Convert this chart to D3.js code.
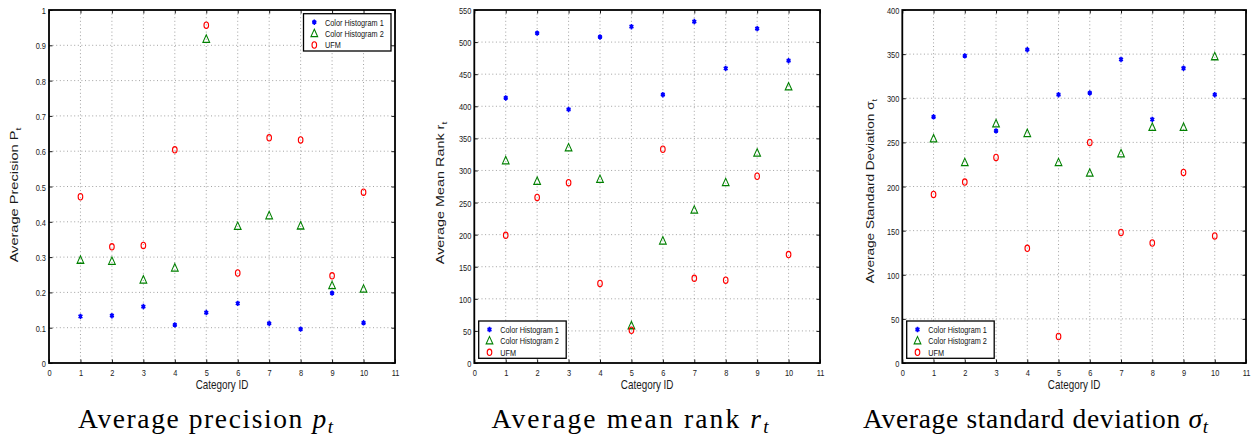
<!DOCTYPE html>
<html><head><meta charset="utf-8">
<script src="https://cdn.jsdelivr.net/npm/d3@7"></script>
<style>
html,body{margin:0;padding:0;background:#fff;}
svg{display:block;}
</style></head>
<body>
<svg id="chart" width="1256" height="439"></svg>
<script>
const categories = [1,2,3,4,5,6,7,8,9,10];
const seriesNames = ["Color Histogram 1","Color Histogram 2","UFM"];
const xTicks = [0,1,2,3,4,5,6,7,8,9,10,11];

const precisionCH1 = [0.132,0.134,0.160,0.108,0.143,0.169,0.112,0.096,0.198,0.114];
const precisionCH2 = [0.291,0.288,0.235,0.269,0.917,0.387,0.417,0.388,0.219,0.209];
const precisionUFM = [0.471,0.329,0.333,0.604,0.957,0.255,0.638,0.632,0.247,0.484];
const precisionTicks = [0,0.1,0.2,0.3,0.4,0.5,0.6,0.7,0.8,0.9,1];

const rankCH1 = [413,514,395,508,524,418,532,459,521,471];
const rankCH2 = [315,283,335,286,58,190,238,281,327,430];
const rankUFM = [199,258,281,124,51,333,132,129,291,169];
const rankTicks = [0,50,100,150,200,250,300,350,400,450,500,550];

const sdCH1 = [279,348,263,355,304,306,344,276,334,304];
const sdCH2 = [254,227,271,260,227,215,237,267,267,347];
const sdUFM = [191,205,233,130,30,250,148,136,216,144];
const sdTicks = [0,50,100,150,200,250,300,350,400];

const panels = [
  {ylabel:"Average Precision P", series:[precisionCH1,precisionCH2,precisionUFM], ticks:precisionTicks,
   left:49, right:395, ylabX:18.3, ylabCy:195, ylabSize:14.6, legend:"tr",
   caption:["Average precision ","p","t"], capCx:205.5, capW:255},
  {ylabel:"Average Mean Rank r", series:[rankCH1,rankCH2,rankUFM], ticks:rankTicks,
   left:474.3, right:820, ylabX:444, ylabCy:193, ylabSize:14.4, legend:"bl",
   caption:["Average mean rank ","r","t"], capCx:630, capW:277},
  {ylabel:"Average Standard Deviation σ", series:[sdCH1,sdCH2,sdUFM], ticks:sdTicks,
   left:902.3, right:1246, ylabX:874, ylabCy:191, ylabSize:13.6, legend:"bl",
   caption:["Average standard deviation ","σ","t"], capCx:1035.5, capW:345}
];

const colors = ["#0000ff","#008000","#ff0000"];
const plotTop = 10, plotBottom = 363;
const squish = 0.76;
const sansFont = "'Liberation Sans',Arial,sans-serif";
const svg = d3.select("#chart");

function sText(g, x, y, txt, size, anchor) {
  return g.append("text").attr("transform",`translate(${x},${y}) scale(${squish},1)`)
    .attr("text-anchor",anchor).style("font-family",sansFont).style("font-size",size+"px")
    .attr("fill","#1a1a1a").text(txt);
}

function drawMarker(g, k, x, y) {
  if (k === 0) {
    g.append("path").attr("d", d3.symbol(d3.symbolAsterisk, 20)())
      .attr("transform", `translate(${x},${y}) scale(0.85,1)`)
      .attr("fill","none").attr("stroke",colors[0]).attr("stroke-width",1.8);
    g.append("ellipse").attr("cx",x).attr("cy",y).attr("rx",1.5).attr("ry",1.8).attr("fill",colors[0]);
  } else if (k === 1) {
    g.append("path").attr("d", d3.symbol(d3.symbolTriangle, 24)())
      .attr("transform", `translate(${x},${y+0.5}) scale(0.9,1.15)`)
      .attr("fill","none").attr("stroke",colors[1]).attr("stroke-width",1.1);
  } else {
    g.append("ellipse").attr("cx",x).attr("cy",y).attr("rx",2.3).attr("ry",3.2)
      .attr("fill","none").attr("stroke",colors[2]).attr("stroke-width",1.1);
  }
}

panels.forEach(p => {
  const g = svg.append("g");
  const x = d3.scaleLinear().domain([0,11]).range([p.left,p.right]);
  const ymax = p.ticks[p.ticks.length-1];
  const y = d3.scaleLinear().domain([0,ymax]).range([plotBottom,plotTop]);

  // grid
  const grid = g.append("g").attr("stroke","#8a8a8a").attr("stroke-width",0.8).attr("stroke-dasharray","1,2.6");
  xTicks.slice(1,-1).forEach(t => grid.append("line").attr("x1",x(t)).attr("x2",x(t)).attr("y1",plotTop).attr("y2",plotBottom));
  p.ticks.slice(1,-1).forEach(t => grid.append("line").attr("x1",p.left).attr("x2",p.right).attr("y1",y(t)).attr("y2",y(t)));

  // axes via d3 axis (inward ticks), labels squished
  const xAx = g.append("g").attr("transform",`translate(0,${plotBottom})`)
    .call(d3.axisBottom(x).tickValues(xTicks).tickSize(-3.5).tickFormat(d3.format("d")));
  const xAxT = g.append("g").attr("transform",`translate(0,${plotTop})`)
    .call(d3.axisTop(x).tickValues(xTicks).tickSize(-3.5).tickFormat(""));
  const yAx = g.append("g").attr("transform",`translate(${p.left},0)`)
    .call(d3.axisLeft(y).tickValues(p.ticks).tickSize(-3.5).tickFormat(d => String(+d.toFixed(2))));
  const yAxR = g.append("g").attr("transform",`translate(${p.right},0)`)
    .call(d3.axisRight(y).tickValues(p.ticks).tickSize(-3.5).tickFormat(""));
  [xAx,xAxT,yAx,yAxR].forEach(a => {
    a.select(".domain").remove();
    a.selectAll(".tick line").attr("stroke","#000").attr("stroke-width",0.9);
    a.selectAll(".tick text").attr("fill","#1a1a1a").style("font-family",sansFont).style("font-size","9.8px")
      .attr("x",null).attr("y",null).attr("dy",null);
  });
  xAx.selectAll(".tick text").attr("transform",`translate(0,13.3) scale(${squish},1)`);
  yAx.selectAll(".tick text").attr("transform",`translate(-3,3.5) scale(${squish},1)`);

  g.append("rect").attr("x",p.left).attr("y",plotTop).attr("width",p.right-p.left).attr("height",plotBottom-plotTop)
    .attr("fill","none").attr("stroke","#000").attr("stroke-width",1.8);

  // markers
  const mg = g.append("g");
  p.series.forEach((vals,k) => {
    vals.forEach((v,i) => drawMarker(mg, k, x(categories[i]), y(v)));
  });

  // x label
  sText(g, (p.left+p.right)/2, 389.3, "Category ID", 13, "middle");
  // y label (rotated, glyph height squished)
  const yl = g.append("text").attr("transform",`translate(${p.ylabX},${p.ylabCy}) rotate(-90) scale(1,${squish})`)
    .attr("text-anchor","middle").style("font-family",sansFont).style("font-size",p.ylabSize+"px").attr("fill","#1a1a1a");
  yl.append("tspan").text(p.ylabel);
  yl.append("tspan").attr("dy",4).style("font-size",(p.ylabSize*0.7)+"px").text("t");

  // legend
  let lx, ly;
  const lw = 87.5, lh = 37.3;
  if (p.legend === "tr") { lx = p.right - 4 - lw; ly = 13.7; }
  else { lx = p.left + 4.4; ly = 321; }
  const lg = g.append("g");
  lg.append("rect").attr("x",lx).attr("y",ly).attr("width",lw).attr("height",lh)
    .attr("fill","#fff").attr("stroke","#000").attr("stroke-width",1.3);
  seriesNames.forEach((name,k) => {
    const ey = ly + 8.5 + k*11.4;
    drawMarker(lg, k, lx + 10.8, ey);
    sText(lg, lx+21.5, ey+3.4, name, 9.6, "start").attr("fill","#111");
  });

  // caption
  const cap = g.append("text").attr("x",p.capCx).attr("y",428.3).attr("text-anchor","middle")
    .style("font-family","'Liberation Serif','DejaVu Serif',serif").style("font-size","27.5px").attr("fill","#000");
  cap.append("tspan").text(p.caption[0]);
  cap.append("tspan").style("font-style","italic").text(p.caption[1]);
  cap.append("tspan").attr("dy",4.5).style("font-style","italic").style("font-size","19px").text(p.caption[2]);
  const len = cap.node().getComputedTextLength();
  if (len < p.capW) cap.attr("textLength", p.capW).attr("lengthAdjust","spacing");
});
</script>
</body></html>
